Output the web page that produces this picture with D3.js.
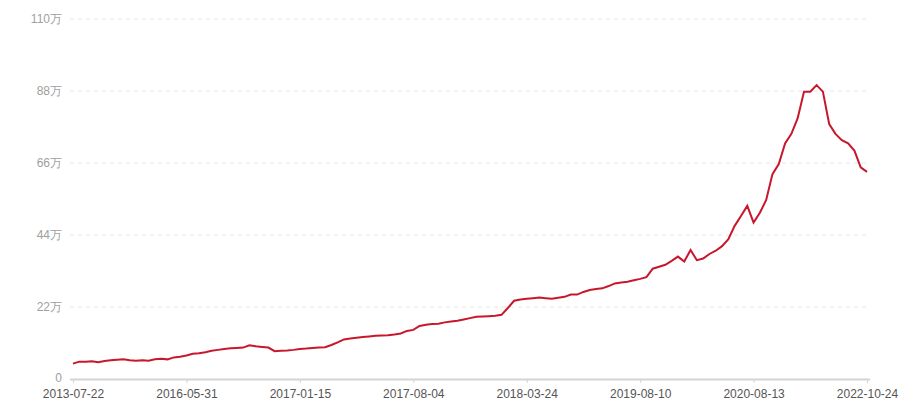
<!DOCTYPE html>
<html>
<head>
<meta charset="utf-8">
<script src="https://cdn.jsdelivr.net/npm/d3@7"></script>
<style>
  body { margin: 0; background: #fff; }
  svg { display: block; font-family: "Noto Sans CJK SC", "Microsoft YaHei", sans-serif; }
</style>
</head>
<body>
<svg id="chart" width="900" height="400"></svg>
<script>
// x-axis labels, one every 18 points
var tickLabels = ["2013-07-22", "2016-05-31", "2017-01-15", "2017-08-04",
                  "2018-03-24", "2019-08-10", "2020-08-13", "2022-10-24"];
var tickStep = 18;

// values in 万 (10k)
var values = [
  4.7, 5.3, 5.3, 5.4, 5.1, 5.5, 5.7, 5.9, 6.0, 5.7,
  5.6, 5.7, 5.6, 6.0, 6.2, 6.0, 6.6, 6.8, 7.2, 7.7,
  7.9, 8.2, 8.6, 8.9, 9.2, 9.4, 9.5, 9.6, 10.3, 10.0,
  9.8, 9.6, 8.5, 8.6, 8.7, 8.9, 9.2, 9.3, 9.5, 9.6,
  9.7, 10.4, 11.2, 12.1, 12.4, 12.6, 12.8, 13.0, 13.2, 13.3,
  13.4, 13.6, 13.9, 14.7, 15.0, 16.2, 16.6, 16.8, 16.9, 17.3,
  17.6, 17.8, 18.2, 18.6, 19.0, 19.1, 19.2, 19.3, 19.6, 21.7,
  23.9, 24.3, 24.5, 24.7, 24.9, 24.7, 24.5, 24.8, 25.1, 25.8,
  25.8, 26.6, 27.2, 27.5, 27.7, 28.4, 29.2, 29.5, 29.7, 30.2,
  30.6, 31.1, 33.7, 34.3, 34.9, 36.1, 37.4, 35.9, 39.4, 36.3,
  36.8, 38.2, 39.2, 40.6, 42.7, 46.8, 49.8, 52.9, 47.8, 50.8,
  54.7, 62.6, 65.7, 72.0, 74.9, 79.7, 87.8, 87.8, 89.8, 87.8,
  77.9, 74.9, 73.0, 72.0, 69.8, 64.7, 63.3
];

var yTicks = [0, 22, 44, 66, 88, 110];

var svg = d3.select("#chart"),
    margin = {top: 19, right: 33, bottom: 21, left: 73},
    width = 900 - margin.left - margin.right,
    height = 400 - margin.top - margin.bottom;

var g = svg.append("g").attr("transform", "translate(" + margin.left + "," + margin.top + ")");

var x = d3.scaleLinear().domain([0, values.length - 1]).range([0, width]);
var y = d3.scaleLinear().domain([0, 110]).range([height, 0]);

// dashed grid lines
g.selectAll(".grid")
  .data(yTicks.slice(1))
  .enter().append("line")
  .attr("class", "grid")
  .attr("x1", -3)
  .attr("x2", width + 3)
  .attr("y1", d => y(d))
  .attr("y2", d => y(d))
  .attr("stroke", "#e6e6e6")
  .attr("stroke-dasharray", "4,4");

// y axis labels (no line)
var yAxis = d3.axisLeft(y)
  .tickValues(yTicks)
  .tickSize(0)
  .tickPadding(11)
  .tickFormat(d => d === 0 ? "0" : d + "万");
var yg = g.append("g").call(yAxis);
yg.select(".domain").remove();
yg.selectAll("text").attr("fill", "#a0a0a0").style("font-size", "12px");
// lift the "0" a touch so it clears the first date label
yg.selectAll("text").filter(d => d === 0).attr("dy", "0.2em");

// x axis
var xAxis = d3.axisBottom(x)
  .tickValues(tickLabels.map((d, i) => i * tickStep))
  .tickSize(4)
  .tickPadding(6)
  .tickFormat((d, i) => tickLabels[i]);
var xg = g.append("g").attr("transform", "translate(0," + height + ")").call(xAxis);
xg.select(".domain")
  .attr("d", "M-3,0.5H" + (width + 3))
  .attr("stroke", "#d4d4d4")
  .attr("stroke-width", 2);
xg.selectAll(".tick line").attr("stroke", "#d4d4d4");
xg.selectAll("text").attr("fill", "#555").style("font-size", "12px");

// the line
var line = d3.line()
  .x((d, i) => x(i))
  .y(d => y(d));

g.append("path")
  .datum(values)
  .attr("fill", "none")
  .attr("stroke", "#c8172c")
  .attr("stroke-width", 2)
  .attr("stroke-linejoin", "miter")
  .attr("d", line);
</script>
</body>
</html>
